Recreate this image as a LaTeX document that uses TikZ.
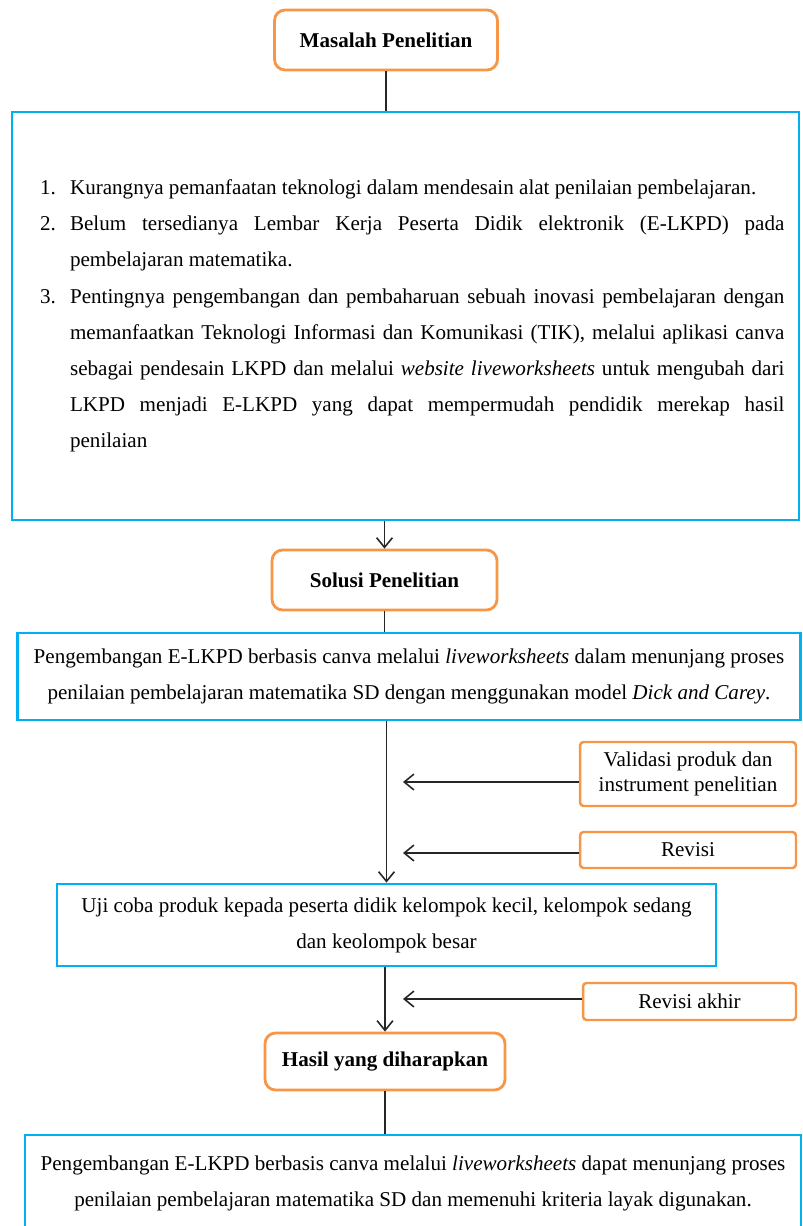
\documentclass[tikz,border=0pt]{standalone}
\usepackage{fontspec}
\setmainfont{Liberation Serif}
\usetikzlibrary{arrows.meta, positioning}
\definecolor{boxblue}{HTML}{00B0F0}
\definecolor{boxorange}{HTML}{F79646}

\begin{document}
\begin{tikzpicture}[x=0.02cm, y=-0.02cm,
                title box/.style={draw=boxorange, line width=1.6pt, rounded corners=6pt, fill=white, font=\fontsize{12}{14}\selectfont\bfseries, align=center, inner sep=0pt},
                main box/.style={draw=boxblue, line width=1.6pt, fill=white, align=center, inner sep=0pt, font=\fontsize{12}{20.5}\selectfont},
                side box/.style={draw=boxorange, line width=1.4pt, rounded corners=2pt, fill=white, align=center, inner sep=0pt, font=\fontsize{12}{14}\selectfont},
                link/.style={draw=black!85, line width=0.9pt},
                arrow/.style={link, -{Straight Barb[length=5.5pt, width=9pt]}}]
                \useasboundingbox (0,0) rectangle (802,1226);

                % Research problem and its points
                \node[title box, minimum width=4.46cm, minimum height=1.2cm] (masalah) at (386,40) {Masalah Penelitian};
                \node[main box, minimum width=15.74cm, minimum height=8.16cm, text width=15.16cm, align=justify,
                      font=\fontsize{12}{20.6}\selectfont] (masalah-isi) at (405.5,316) {%
                    \leftskip=0.27cm
                    \noindent\hangindent=0.6cm\hangafter=1\makebox[0.6cm][l]{1.}Kurangnya pemanfaatan teknologi dalam mendesain alat penilaian pembelajaran.\par
                    \noindent\hangindent=0.6cm\hangafter=1\makebox[0.6cm][l]{2.}Belum tersedianya Lembar Kerja Peserta Didik elektronik (E-LKPD) pada\linebreak
                    pembelajaran matematika.\par
                    \noindent\hangindent=0.6cm\hangafter=1\makebox[0.6cm][l]{3.}Pentingnya pengembangan dan pembaharuan sebuah inovasi pembelajaran dengan\linebreak
                    memanfaatkan Teknologi Informasi dan Komunikasi (TIK), melalui aplikasi canva\linebreak
                    sebagai pendesain LKPD dan melalui \textit{website liveworksheets} untuk mengubah dari\linebreak
                    LKPD menjadi E-LKPD yang dapat mempermudah pendidik merekap hasil\linebreak
                    penilaian\par};

                % Research solution
                \node[title box, minimum width=4.5cm, minimum height=1.2cm] (solusi) at (384.5,580) {Solusi Penelitian};
                \node[main box, minimum width=15.66cm, minimum height=1.74cm] (solusi-isi) at (409,676.5)
                    {Pengembangan E-LKPD berbasis canva melalui \textit{liveworksheets} dalam menunjang proses\\
                     penilaian pembelajaran matematika SD dengan menggunakan model \textit{Dick and Carey}.};

                % Validation and trial steps
                \node[side box, minimum width=4.32cm, minimum height=1.28cm] (validasi) at (688,774) {Validasi produk dan\\ instrument penelitian};
                \node[side box, minimum width=4.32cm, minimum height=0.72cm] (revisi) at (688,850) {Revisi};
                \node[main box, minimum width=13.18cm, minimum height=1.64cm] (ujicoba) at (386.5,925)
                    {Uji coba produk kepada peserta didik kelompok kecil, kelompok sedang\\ dan keolompok besar};
                \node[side box, minimum width=4.26cm, minimum height=0.74cm] (revisi-akhir) at (689.5,1001.5) {Revisi akhir};

                % Expected result
                \node[title box, minimum width=4.8cm, minimum height=1.14cm] (hasil) at (385,1061.5) {Hasil yang diharapkan};
                \node[main box, minimum width=15.52cm, minimum height=1.94cm] (hasil-isi) at (413,1183.5)
                    {Pengembangan E-LKPD berbasis canva melalui \textit{liveworksheets} dapat menunjang proses\\
                     penilaian pembelajaran matematika SD dan memenuhi kriteria layak digunakan.};

                % Arrow tips beside the main line
                \coordinate (tip-validasi) at (403,782);
                \coordinate (tip-revisi) at (403,853);
                \coordinate (tip-akhir) at (403,999);

                % Connectors
                \draw[link] (masalah.south) -- (masalah.south |- masalah-isi.north);
                \draw[arrow] (masalah-isi.south -| solusi) -- (solusi.north);
                \draw[link] (solusi.south) -- (solusi.south |- solusi-isi.north);
                \draw[arrow] (ujicoba.north |- solusi-isi.south) -- (ujicoba.north);
                \draw[arrow] (validasi.west |- tip-validasi) -- (tip-validasi);
                \draw[arrow] (revisi.west |- tip-revisi) -- (tip-revisi);
                \draw[arrow] (ujicoba.south -| hasil) -- (hasil.north);
                \draw[arrow] (revisi-akhir.west |- tip-akhir) -- (tip-akhir);
                \draw[link] (hasil.south) -- (hasil.south |- hasil-isi.north);
            \end{tikzpicture}
\end{document}
